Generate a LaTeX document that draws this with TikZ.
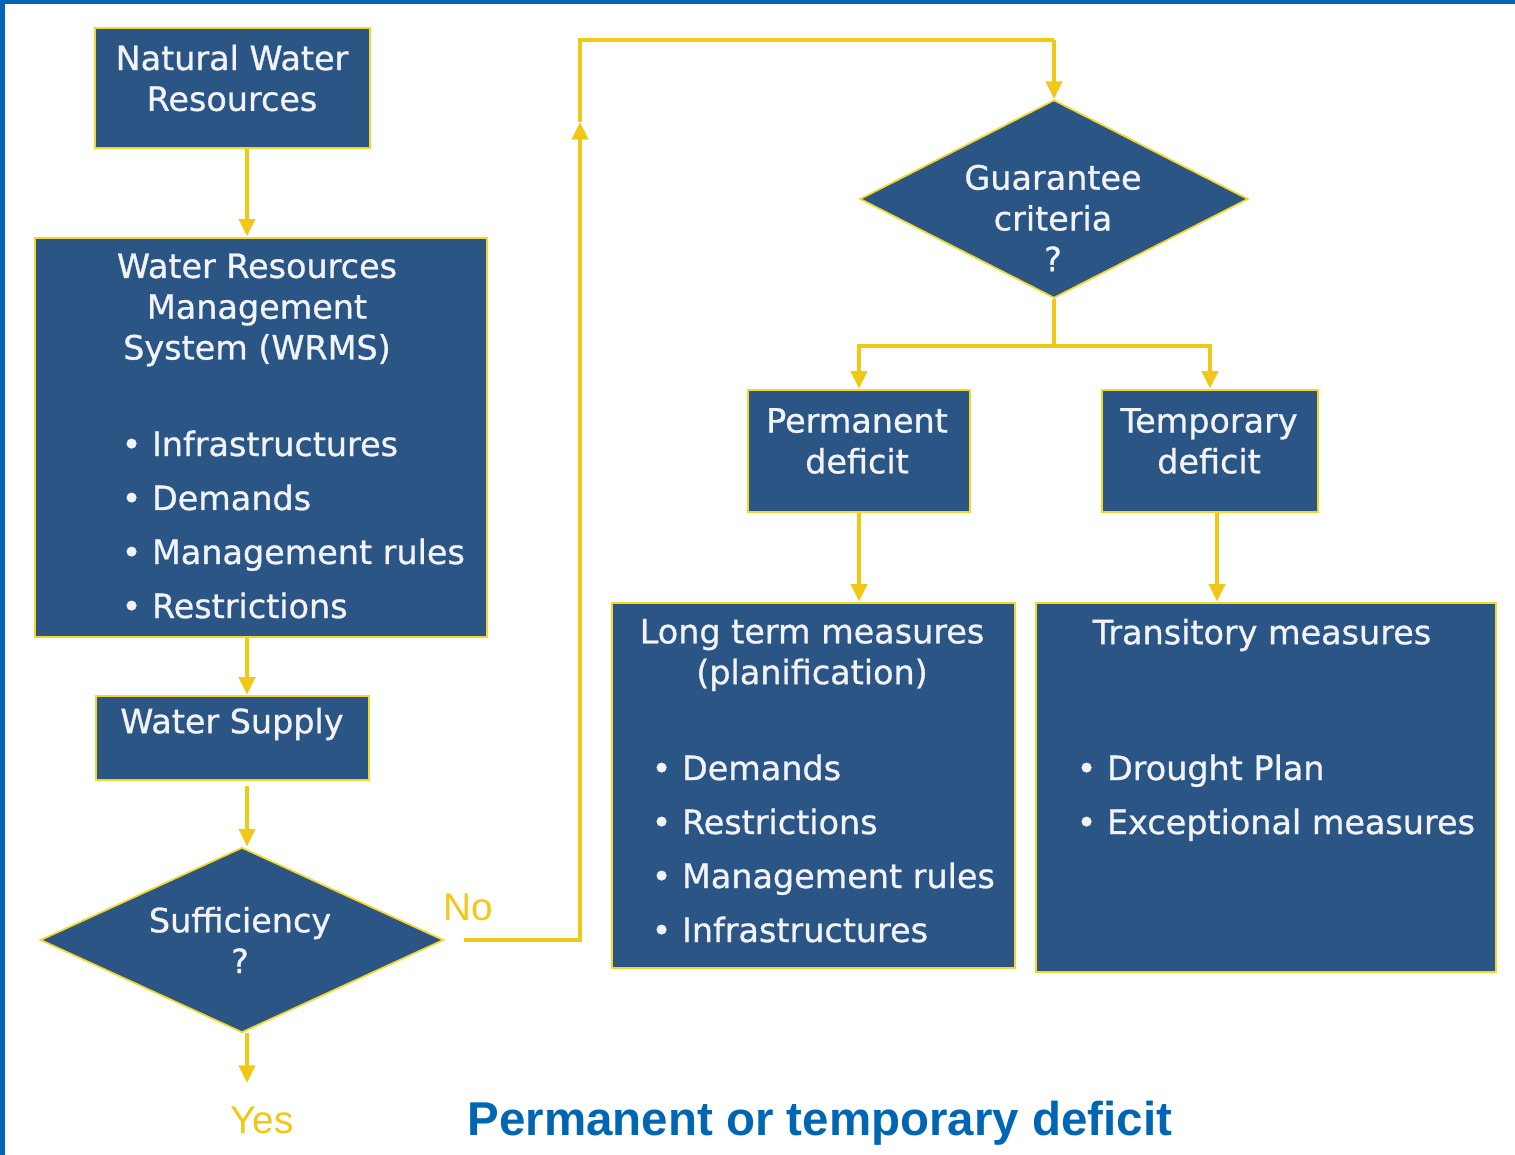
\documentclass[tikz,border=0pt]{standalone}
\usepackage{fontspec}
\setmainfont{DejaVu Sans}
\newfontfamily\boxfont{DejaVu Sans}[FakeBold=0.9]
\newfontfamily\titlefont{Liberation Sans}
\usetikzlibrary{shapes.geometric}
\usetikzlibrary{arrows.meta}

\definecolor{boxblue}{RGB}{43,85,133}
\definecolor{boxedge}{RGB}{246,214,40}
\definecolor{flowyellow}{RGB}{242,200,22}
\definecolor{frameblue}{RGB}{0,102,179}
\definecolor{labelwhite}{RGB}{240,243,247}

\tikzset{
    block/.style={draw=boxedge, fill=boxblue, line width=0.7pt, inner sep=0pt},
    decision/.style={diamond, draw=boxedge, fill=boxblue, line width=0.5pt, inner sep=0pt},
    boxtext/.style={text=labelwhite, font=\fontsize{9.5}{11.6}\boxfont, align=center, inner sep=0pt},
    itemtext/.style={text=labelwhite, font=\fontsize{9.5}{11.6}\boxfont, anchor=base west, inner sep=0pt},
    flowline/.style={draw=flowyellow, line width=1.2pt},
    flow/.style={flowline, -{Triangle[length=5pt,width=4.5pt]}},
    answer/.style={text=flowyellow, font=\fontsize{11}{13}\titlefont, inner sep=0pt}
}

\begin{document}
\begin{tikzpicture}[x=0.01cm, y=-0.01cm]
    \useasboundingbox (0,0) rectangle (1515,1155);

    % Frame on the left and top
    \fill[frameblue] (0,0) rectangle (5,1155);
    \fill[frameblue] (0,0) rectangle (1515,4);

    \coordinate (spine) at (247,0);

    % Left column
    \node[block, minimum width=2.75cm, minimum height=1.20cm] (nwr) at (232.5,88) {};
    \node[block, minimum width=4.52cm, minimum height=3.99cm] (wrms) at (261,437.5) {};
    \node[block, minimum width=2.73cm, minimum height=0.84cm] (supply) at (232.5,738) {};
    \node[decision, minimum width=4.03cm, minimum height=1.85cm] (suff) at (242,940) {};

    % Right part
    \node[decision, minimum width=3.88cm, minimum height=1.98cm] (guar) at (1054,199) {};
    \node[block, minimum width=2.22cm, minimum height=1.22cm] (perm) at (859,451) {};
    \node[block, minimum width=2.16cm, minimum height=1.22cm] (temp) at (1210,451) {};
    \node[block, minimum width=4.03cm, minimum height=3.65cm] (long) at (813.5,785.5) {};
    \node[block, minimum width=4.60cm, minimum height=3.69cm] (trans) at (1266,787.5) {};

    % Texts in the boxes
    \node[boxtext] (nwrT) at (232,78) {Natural Water\\Resources};
    \node[boxtext] (wrmsT) at (257,310) {Water Resources\\Management\\System (WRMS)};
    \foreach \t [count=\i] in {Infrastructures, Demands, Management rules, Restrictions}
        \node[itemtext] (wrms\i) at (121,{456+54*(\i-1)}) {\textbullet\ \t};
    \node[boxtext] (supplyT) at (232,724) {Water Supply};
    \node[boxtext] (suffT) at (240,940) {Sufficiency\\?};
    \node[boxtext] (guarT) at (1053,218) {Guarantee\\criteria\\?};
    \node[boxtext] (permT) at (857,441) {Permanent\\deficit};
    \node[boxtext] (tempT) at (1209,441) {Temporary\\deficit};
    \node[boxtext] (longT) at (812,655) {Long term measures\\(planification)};
    \foreach \t [count=\i] in {Demands, Restrictions, Management rules, Infrastructures}
        \node[itemtext] (long\i) at (651,{780+54*(\i-1)}) {\textbullet\ \t};
    \node[boxtext] (transT) at (1262,635) {Transitory measures};
    \foreach \t [count=\i] in {Drought Plan, Exceptional measures}
        \node[itemtext] (trans\i) at (1076,{780+54*(\i-1)}) {\textbullet\ \t};

    % Answers
    \node[answer] (no) at (468,907) {No};
    \node[answer] (yes) at (262,1120) {Yes};
    \coordinate (yesend) at (247,1083);

    % Connectors on the left
    \draw[flow] (nwr.south -| spine) -- (wrms.north -| spine);
    \draw[flow] (wrms.south -| spine) -- (supply.north -| spine);
    \draw[flow] ([yshift=-0.05cm]supply.south -| spine) -- (suff.north -| spine);
    \draw[flow] (suff.south -| spine) -- (yesend);

    % The "No" loop
    \coordinate (upturn) at (580,940);
    \coordinate (uptip) at (580,122);
    \coordinate (topturn) at (580,40);
    \draw[flow] ([xshift=0.19cm]suff.east) -- (upturn) -- (uptip);
    \draw[flowline] (uptip) -- (topturn) -- (topturn -| guar.north);
    \draw[flow] (topturn -| guar.north) -- (guar.north);

    % Split into the two deficits
    \coordinate (split) at (1054,346);
    \draw[flowline] (guar.south) -- (split);
    \draw[flow] (split) -| (perm.north);
    \draw[flow] (split) -| (temp.north);
    \draw[flow] (perm.south) -- (perm.south |- long.north);
    \draw[flow] ([xshift=0.07cm]temp.south) -- ([xshift=0.07cm]temp.south |- trans.north);

    % Caption
    \node[text=frameblue, font=\fontsize{13.5}{16}\titlefont\bfseries] (caption) at (820,1123) {Permanent or temporary deficit};
\end{tikzpicture}
\end{document}
